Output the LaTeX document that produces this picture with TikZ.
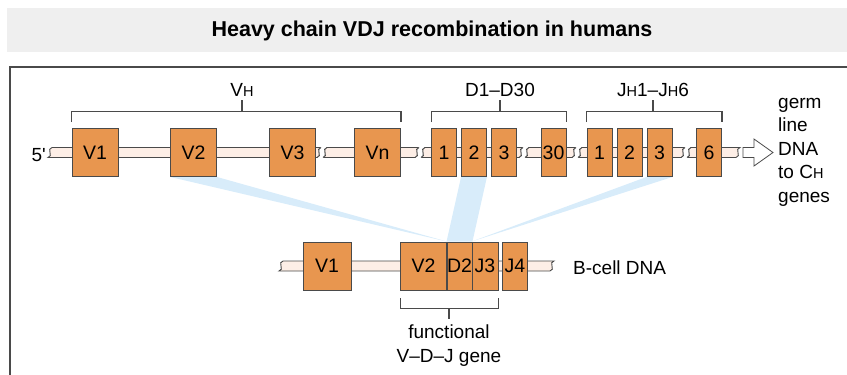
\documentclass[tikz,border=0pt]{standalone}
\usepackage{fontspec}
\setmainfont{Liberation Sans}
\usetikzlibrary{backgrounds}
\definecolor{segorange}{HTML}{E8964F}
\definecolor{strandpink}{HTML}{FDEEE6}
\definecolor{joinblue}{HTML}{D8ECFA}
\definecolor{titlegray}{HTML}{EFEFEF}
\definecolor{linegray}{HTML}{4A4A4A}
\newcommand{\lowcap}[1]{{\fontsize{14.5}{14.5}\selectfont #1}}
% strand with wavy ends: x0, x1, y
\newcommand{\dnastrand}[3]{%
  \filldraw[strand] ({#1+2},{#3-5}) -- ({#2+2},{#3-5})
    .. controls ({#2-4},{#3-4}) and ({#2+4},{#3+4}) .. ({#2-2},{#3+5})
    -- ({#1-2},{#3+5})
    .. controls ({#1+4},{#3+4}) and ({#1-4},{#3-4}) .. ({#1+2},{#3-5}) -- cycle;}
% break in the strand at x, y
\newcommand{\dnabreak}[2]{%
  \begin{scope}[shift={(#1,#2)}]
    \fill[white] (-1,-5.7) .. controls (-7,-4) and (1,4) .. (-5,5.7)
      -- (1,5.7) .. controls (7,4) and (-1,-4) .. (5,-5.7) -- cycle;
    \draw[linegray,line width=1pt] (-1,-5) .. controls (-7,-4) and (1,4) .. (-5,5);
    \draw[linegray,line width=1pt] (5,-5) .. controls (-1,-4) and (7,4) .. (1,5);
  \end{scope}}

\begin{document}
\begin{tikzpicture}[x=1pt,y=-1pt,
    strand/.style={draw=linegray,line width=0.9pt,fill=strandpink},
    seg/.style={draw=linegray,line width=0.9pt,fill=segorange,minimum height=48pt,
      inner sep=0pt,font=\fontsize{19.5}{19.5}\selectfont},
    vseg/.style={seg,minimum width=46pt},
    dseg/.style={seg,minimum width=25pt},
    brk/.style={linegray,line width=1.1pt},
    lbl/.style={font=\fontsize{19}{23.5}\selectfont,inner sep=0pt}]
  \useasboundingbox (0,0) rectangle (847,375);
  % title and frame
  \fill[titlegray] (7,8) rectangle (847,52);
  \node[font=\bfseries\fontsize{21.5}{22}\selectfont] (title) at (432,31) {Heavy chain VDJ recombination in humans};
  \draw[linegray,line width=1.2pt] (847,67) -- (10,67) -- (10,375);

  % germ line DNA
  \dnastrand{50}{738}{152.5}
  \dnabreak{322}{152.5}
  \dnabreak{420}{152.5}
  \dnabreak{524}{152.5}
  \dnabreak{577}{152.5}
  \dnabreak{686}{152.5}
  \draw[linegray,line width=0.8pt,fill=white] (743,147.5) -- (754,147.5) -- (754,139)
    -- (773,152.5) -- (754,166) -- (754,157.5) -- (743,157.5) -- cycle;
  \node[vseg] (tV1) at (95,152.5) {V1};
  \node[vseg] (tV2) at (193.5,152.5) {V2};
  \node[vseg] (tV3) at (292.5,152.5) {V3};
  \node[vseg] (tVn) at (377.5,152.5) {Vn};
  \node[dseg] (tD1) at (444,152.5) {1};
  \node[dseg] (tD2) at (474,152.5) {2};
  \node[dseg] (tD3) at (504,152.5) {3};
  \node[dseg] (tD30) at (553.5,152.5) {30};
  \node[dseg] (tJ1) at (599.5,152.5) {1};
  \node[dseg] (tJ2) at (629.5,152.5) {2};
  \node[dseg] (tJ3) at (659.5,152.5) {3};
  \node[dseg] (tJ6) at (709,152.5) {6};
  \node[lbl,anchor=east] (five) at (46,155) {5\textquotesingle};
  \node[lbl,anchor=north west,align=left] (germ) at (778,98) {germ\\line\\DNA\\to C\lowcap{H}\\genes};

  % segment groups
  \node[lbl,anchor=base] (lVH) at (242,96) {V\lowcap{H}};
  \node[lbl,anchor=base] (lD) at (500,96) {D1--D30};
  \node[lbl,anchor=base] (lJ) at (653,96) {J\lowcap{H}1--J\lowcap{H}6};
  \draw[brk] ([yshift=6pt]tV1.north west) -- ++(0,-11) -| ([yshift=6pt]tVn.north east);
  \draw[brk] (242,111) -- (242,100);
  \draw[brk] ([yshift=6pt]tD1.north west) -- ++(0,-11) -| ([yshift=6pt]tD30.north east);
  \draw[brk] (500,111) -- (500,100);
  \draw[brk] ([yshift=6pt]tJ1.north west) -- ++(0,-11) -| ([yshift=6pt]tJ6.north east);
  \draw[brk] (653,111) -- (653,100);

  % B-cell DNA
  \dnastrand{281}{552}{266}
  \node[vseg,minimum width=48pt] (bV1) at (327,266) {V1};
  \node[vseg] (bV2) at (423.5,266) {V2};
  \node[dseg] (bD2) at (459.5,266) {D2};
  \node[dseg,minimum width=26pt] (bJ3) at (485,266) {J3};
  \node[dseg] (bJ4) at (515,266) {J4};
  \node[lbl,anchor=west] (bcell) at (573,268) {B-cell DNA};
  \draw[brk] ([yshift=-8pt]bV2.south west) -- ++(0,10) -| ([yshift=-8pt]bJ3.south east);
  \draw[brk] (449,308) -- (449,319);
  \node[lbl,anchor=north,align=center] (func) at (449,325) {functional\\V--D--J gene};

  % joining of V, D and J
  \begin{pgfonlayer}{background}
    \fill[joinblue] (tV2.south west) -- (tV2.south east) -- (bV2.north east) -- cycle;
    \fill[joinblue] (tD2.south west) -- (tD2.south east) -- (bD2.north east) -- (bD2.north west) -- cycle;
    \fill[joinblue] (tJ3.south west) -- (tJ3.south east) -- (bJ3.north west) -- cycle;
  \end{pgfonlayer}
\end{tikzpicture}
\end{document}
